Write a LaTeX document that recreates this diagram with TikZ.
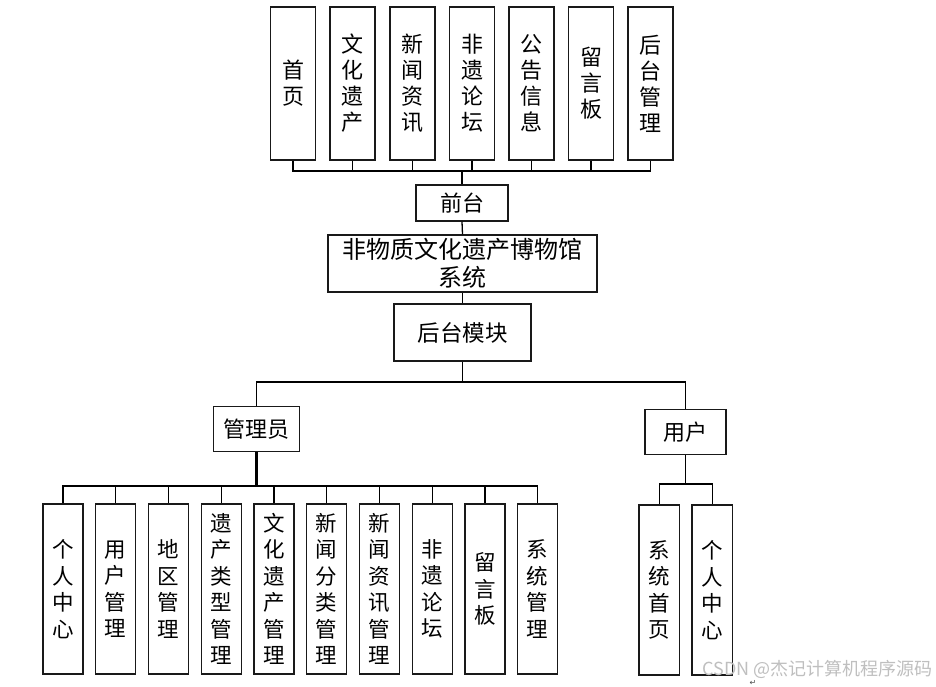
\documentclass[tikz,border=0pt]{standalone}
\usepackage{fontspec}
\setmainfont{Noto Sans CJK SC}
\newfontfamily\symfont{DejaVu Sans}
\begin{document}
\begin{tikzpicture}[x=1pt,y=-1pt,
  box/.style={draw=black!90, line width=1.4pt, fill=white, inner sep=0pt, align=center,
    font=\fontsize{22}{26}\selectfont},
  topbox/.style={box, minimum width=45pt, minimum height=153pt},
  botbox/.style={box, minimum width=40pt, minimum height=170pt, font=\fontsize{21.5}{26.5}\selectfont},
  wide/.style={box},
  conn/.style={draw=black, line width=1.3pt},
  thick conn/.style={draw=black, line width=2.4pt}
]
\useasboundingbox (0,0) rectangle (936,686);
\fill[white] (0,0) rectangle (936,686);

% top row
\node[topbox] (t1) at (293,83.5) {首\\页};
\node[topbox] (t2) at (352.5,83.5) {文\\化\\遗\\产};
\node[topbox] (t3) at (412.5,83.5) {新\\闻\\资\\讯};
\node[topbox] (t4) at (472,83.5) {非\\遗\\论\\坛};
\node[topbox] (t5) at (531.5,83.5) {公\\告\\信\\息};
\node[topbox] (t6) at (591,83.5) {留\\言\\板};
\node[topbox] (t7) at (650.5,83.5) {后\\台\\管\\理};

% middle column
\node[wide, minimum width=92pt, minimum height=36pt] (qt) at (462,203) {前台};
\node[wide, minimum width=269pt, minimum height=57pt, font=\fontsize{24}{28}\selectfont] (sys) at (462.5,263.5) {非物质文化遗产博物馆\\系统};
\node[wide, minimum width=137pt, minimum height=57pt, font=\fontsize{22.5}{26}\selectfont] (ht) at (462.5,332.5) {后台模块};

\coordinate (fb) at (462,171);
\foreach \n in {t1,t2,t3,t4,t5,t6,t7} \draw[conn] (\n.south) |- (fb);
\draw[thick conn, line width=2pt] (fb) -- (qt.north);
\draw[conn] (qt.south) -- (sys.north);
\draw[conn] (sys.south) -- (ht.north);

% roles
\node[wide, minimum width=86pt, minimum height=45pt] (adm) at (256.5,429) {管理员};
\node[wide, minimum width=81pt, minimum height=45pt] (usr) at (685.5,432) {用户};
\coordinate (hb) at (462.5,382);
\draw[conn] (ht.south) -- (hb);
\draw[conn] (hb) -| (adm.north);
\draw[conn] (hb) -| (usr.north);

% admin modules
\node[botbox] (a1) at (63,589) {个\\人\\中\\心};
\node[botbox] (a2) at (115.7,589) {用\\户\\管\\理};
\node[botbox] (a3) at (168.5,589) {地\\区\\管\\理};
\node[botbox] (a4) at (221.2,589) {遗\\产\\类\\型\\管\\理};
\node[botbox] (a5) at (274,589) {文\\化\\遗\\产\\管\\理};
\node[botbox] (a6) at (326.7,589) {新\\闻\\分\\类\\管\\理};
\node[botbox] (a7) at (379.5,589) {新\\闻\\资\\讯\\管\\理};
\node[botbox] (a8) at (432.2,589) {非\\遗\\论\\坛};
\node[botbox] (a9) at (485,589) {留\\言\\板};
\node[botbox] (a10) at (537.7,589) {系\\统\\管\\理};

\coordinate (ab) at (256.5,485.5);
\draw[thick conn] (adm.south) -- (ab);
\draw[conn, line width=2pt] (a1.north |- ab) -- (a10.north |- ab);
\foreach \n in {a1,a2,a3,a4,a5,a6,a7,a8,a9,a10} \draw[conn] (ab) -| (\n.north);

% user modules
\node[botbox, minimum width=40.5pt] (u1) at (659.3,590) {系\\统\\首\\页};
\node[botbox, minimum width=40.5pt] (u2) at (712.2,590) {个\\人\\中\\心};
\coordinate (ub) at (685.5,484);
\draw[conn] (usr.south) -- (ub);
\draw[conn] (ub) -| (u1.north);
\draw[conn] (ub) -| (u2.north);

% watermark
\node[anchor=east, text=black!25, font=\fontsize{18}{20}\selectfont, inner sep=0pt] (wm) at (933,669) {CSDN @杰记计算机程序源码};
\node[font=\symfont\fontsize{8}{9}\selectfont, text=black!70, inner sep=0pt] (rm) at (753,683) {↵};
\end{tikzpicture}
\end{document}
